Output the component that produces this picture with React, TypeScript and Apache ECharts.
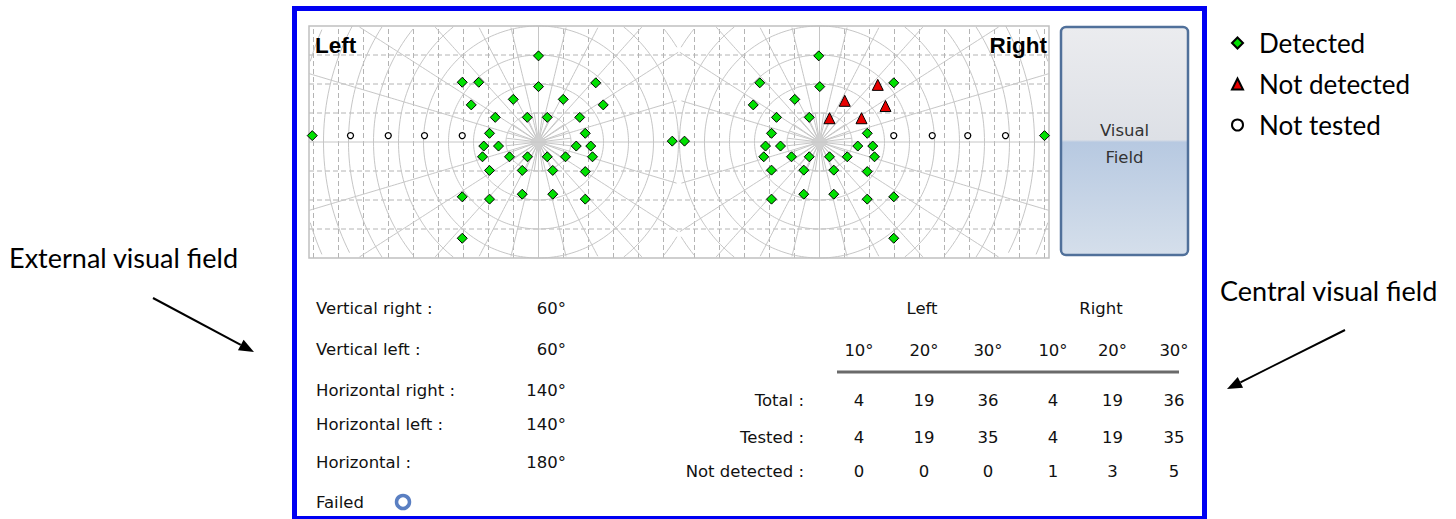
import React, { useEffect, useRef } from "react";
import * as echarts from "echarts";

// ---------- DATA ----------
// Fixation points of the two eyes on the shared horizontal axis (degrees)
const EYE_LEFT = -56.2;
const EYE_RIGHT = 56.2;

// Stimulus positions [horizontal°, vertical°] relative to each eye's fixation point
const leftDetected: number[][] = [
  [0, 29.7], [-30.5, 20.6], [-23.9, 20.6], [22.9, 20.4], [0, 19.1],
  [-26.9, 12.8], [-10.1, 14.7], [9.9, 14.7], [25.9, 12.8],
  [-17.3, 8.5], [-4.5, 8.5], [3.5, 8.5], [16.5, 8.5],
  [-19.6, 3.0], [18.7, 3.0],
  [-21.9, -1.4], [-16, -1.4], [15.1, -1.4], [20.9, -1.4],
  [-22.4, -5.1], [-11.6, -5.1], [-4.4, -5.1], [3.5, -5.1], [10.8, -5.1], [21.6, -5.1],
  [-19.6, -9.8], [-6.5, -9.8], [5.7, -9.8], [18.7, -10.2],
  [-30.5, -18.9], [-19.6, -19.7], [-6.5, -18.0], [5.7, -18.0], [18.7, -19.7],
  [-30.5, -33.2],
  [-90.5, 2.2], [58.4, 0.3],
];
const leftNotDetected: number[][] = [];
const leftNotTested: number[][] = [[-30.5, 2.2], [-45.6, 2.2], [-60.1, 2.2], [-75.2, 2.2]];

const rightDetected: number[][] = [
  [-0.3, 29.7], [-23.9, 20.4], [0.1, 19.1], [29.7, 20.4],
  [-26.5, 12.8], [-9.9, 14.7],
  [-17.2, 8.5], [-4.1, 8.5],
  [-19.2, 3.0], [19.1, 3.0],
  [-21.6, -1.4], [-15.6, -1.4], [15.3, -1.4], [21.3, -1.4],
  [-22.3, -5.1], [-11.2, -5.1], [-4.1, -5.1], [4.0, -5.1], [11.1, -5.1], [22.0, -5.1],
  [-19.2, -9.7], [-6.3, -9.7], [5.7, -9.7], [19.1, -10.2],
  [-19.2, -19.7], [-6.3, -18.0], [5.7, -18.0], [19.1, -19.7], [29.7, -18.9],
  [29.7, -33.2],
  [90.0, 2.2], [-58.9, 0.3],
];
const rightNotDetected: number[][] = [[23.3, 19.7], [10.1, 14.2], [26.4, 12.4], [4.0, 8.2], [16.8, 8.2]];
const rightNotTested: number[][] = [[29.7, 2.2], [45.1, 2.2], [59.3, 2.2], [74.4, 2.2]];

const legendNames = ["Detected", "Not detected", "Not tested"];

// External visual field summary
const extLabels = ["Vertical right :", "Vertical left :", "Horizontal right :", "Horizontal left :", "Horizontal :"];
const extValues = ["60°", "60°", "140°", "140°", "180°"];

// Central visual field table
const tableEyes = ["Left", "Right"];
const tableDegrees = ["10°", "20°", "30°"];
const rowLabels = ["Total :", "Tested :", "Not detected :"];
const totalRow = [4, 19, 36, 4, 19, 36];
const testedRow = [4, 19, 35, 4, 19, 35];
const notDetectedRow = [0, 0, 0, 1, 3, 5];

// ---------- LAYOUT ----------
const X_MIN = -148, X_MAX = 148, Y_MIN = -40, Y_MAX = 40;
const TXT = "DejaVu Sans";
const ANN = "Lato";

const ringRx = (r: number) => (r <= 20 ? r * 1.3 : r + 6);
const ringRy = (r: number) => r;

function shift(pts: number[][], cx: number) {
  return pts.map(([x, y]) => [cx + x, y]);
}

function renderGrid(_params: any, api: any) {
  const children: any[] = [];
  const grid = "#c6c6c6";
  const addPoly = (pts: number[][], dashed: boolean) => {
    if (pts.length < 2) return;
    children.push({
      type: "polyline",
      silent: true,
      shape: { points: pts.map((p) => api.coord(p)) },
      style: { stroke: dashed ? "#b4b4b4" : grid, lineWidth: 1, fill: null, lineDash: dashed ? [5, 3] : null },
    });
  };
  const addClipped = (pts: number[][], xmin: number, xmax: number, dashed = false) => {
    let seg: number[][] = [];
    for (const p of pts) {
      if (p[0] >= xmin && p[0] <= xmax && p[1] >= Y_MIN && p[1] <= Y_MAX) seg.push(p);
      else {
        addPoly(seg, dashed);
        seg = [];
      }
    }
    addPoly(seg, dashed);
  };
  const seg = (a: number[], b: number[], n = 60) => {
    const out: number[][] = [];
    for (let i = 0; i <= n; i++) out.push([a[0] + ((b[0] - a[0]) * i) / n, a[1] + ((b[1] - a[1]) * i) / n]);
    return out;
  };

  // dashed horizontals
  for (const y of [-30, -20, -10, 10, 20, 30]) addPoly([[X_MIN, y], [X_MAX, y]], true);

  const eyes = [
    { cx: EYE_LEFT, xmin: X_MIN, xmax: 0 },
    { cx: EYE_RIGHT, xmin: 0, xmax: X_MAX },
  ];
  for (const e of eyes) {
    // dashed verticals
    for (let k = 1; k < 12; k++) {
      for (const s of [-1, 1]) {
        const x = e.cx + s * 10 * k;
        if (x > e.xmin + 1 && x < e.xmax - 1) addPoly([[x, Y_MIN], [x, Y_MAX]], true);
      }
    }
  }
  for (const e of eyes) {
    // vertical meridian
    addPoly([[e.cx, Y_MIN], [e.cx, Y_MAX]], false);
    // rings
    for (let r = 10; r <= 100; r += 10) {
      const pts: number[][] = [];
      for (let a = 0; a <= 360; a += 1.5) {
        const t = (a * Math.PI) / 180;
        pts.push([e.cx + ringRx(r) * Math.cos(t), ringRy(r) * Math.sin(t)]);
      }
      addClipped(pts, e.xmin, e.xmax);
    }
    // meridians
    for (let a = 0; a < 360; a += 15) {
      if (a % 90 === 0) continue;
      const t = (a * Math.PI) / 180;
      addClipped(seg([e.cx, 0], [e.cx + ringRx(140) * Math.cos(t), ringRy(140) * Math.sin(t)], 120), e.xmin, e.xmax);
    }
    // inner spokes
    for (let a = 7.5; a < 360; a += 15) {
      const t = (a * Math.PI) / 180;
      addPoly([[e.cx, 0], [e.cx + ringRx(10) * Math.cos(t), ringRy(10) * Math.sin(t)]], false);
    }
    // fixation marker
    const c = api.coord([e.cx, 0]);
    children.push({
      type: "polygon",
      silent: true,
      shape: { points: [[c[0], c[1] - 9], [c[0] + 9, c[1]], [c[0], c[1] + 9], [c[0] - 9, c[1]]] },
      style: { fill: "#cfcfcf", stroke: null },
    });
  }
  // horizontal meridian
  addPoly([[X_MIN, 0], [X_MAX, 0]], false);
  // plot border
  const tl = api.coord([X_MIN, Y_MAX]);
  const br = api.coord([X_MAX, Y_MIN]);
  children.push({
    type: "rect",
    silent: true,
    shape: { x: tl[0], y: tl[1], width: br[0] - tl[0], height: br[1] - tl[1] },
    style: { fill: null, stroke: "#c0c0c0", lineWidth: 1.5 },
  });
  return { type: "group", children };
}

function arrow(x1: number, y1: number, x2: number, y2: number) {
  const dx = x2 - x1, dy = y2 - y1;
  const len = Math.hypot(dx, dy);
  const ux = dx / len, uy = dy / len;
  const L = 15, W = 12;
  const bx = x2 - ux * L, by = y2 - uy * L;
  return [
    { type: "line", shape: { x1, y1, x2: bx, y2: by }, style: { stroke: "#000", lineWidth: 2 } },
    {
      type: "polygon",
      shape: { points: [[x2, y2], [bx - (uy * W) / 2, by + (ux * W) / 2], [bx + (uy * W) / 2, by - (ux * W) / 2]] },
      style: { fill: "#000" },
    },
  ];
}

function txt(text: string, x: number, y: number, align = "left", size = 16.5, family = TXT, weight = "normal", fill = "#111") {
  return {
    type: "text",
    x,
    y,
    z: 20,
    style: { text, fill, fontSize: size, fontFamily: family, fontWeight: weight, align, verticalAlign: "middle" },
  };
}

function buildOption() {
  const graphic: any[] = [];
  // outer blue frame
  graphic.push({
    type: "rect",
    z: 30,
    shape: { x: 294.5, y: 8.5, width: 910, height: 510 },
    style: { fill: null, stroke: "#0000f2", lineWidth: 5 },
  });
  // eye labels
  graphic.push(txt("Left", 315, 45, "left", 22.5, "Liberation Sans", "bold", "#000"));
  graphic.push(txt("Right", 1047, 45, "right", 22.5, "Liberation Sans", "bold", "#000"));
  // Visual Field button
  graphic.push({
    type: "rect",
    z: 20,
    shape: { x: 1061, y: 27, width: 127, height: 228, r: 5 },
    style: {
      fill: new echarts.graphic.LinearGradient(0, 0, 0, 1, [
        { offset: 0, color: "#ebecef" },
        { offset: 0.495, color: "#dde0e6" },
        { offset: 0.505, color: "#b7c9e1" },
        { offset: 1, color: "#d5dfeb" },
      ]),
      stroke: "#50709a",
      lineWidth: 2.5,
    },
  });
  graphic.push(txt("Visual", 1124.5, 130, "center", 16.5, TXT, "normal", "#333"));
  graphic.push(txt("Field", 1124.5, 157, "center", 16.5, TXT, "normal", "#333"));

  // external visual field
  const extY = [308, 349, 390, 424, 462];
  extLabels.forEach((l, i) => {
    graphic.push(txt(l, 316, extY[i]));
    graphic.push(txt(extValues[i], 566, extY[i], "right"));
  });
  graphic.push(txt("Failed", 316, 502));
  graphic.push({
    type: "circle",
    z: 20,
    shape: { cx: 403, cy: 502, r: 6.5 },
    style: { fill: null, stroke: "#5a7fc2", lineWidth: 3.5 },
  });

  // central table
  const colX = [859, 924, 988, 1053, 1112.5, 1174];
  graphic.push(txt(tableEyes[0], 922, 308, "center"));
  graphic.push(txt(tableEyes[1], 1101, 308, "center"));
  colX.forEach((x, i) => graphic.push(txt(tableDegrees[i % 3], x, 350, "center")));
  graphic.push({
    type: "line",
    z: 20,
    shape: { x1: 837, y1: 372, x2: 1179, y2: 372 },
    style: { stroke: "#6a6a6a", lineWidth: 3 },
  });
  const rows = [totalRow, testedRow, notDetectedRow];
  const rowY = [400, 437, 471];
  rows.forEach((row, r) => {
    graphic.push(txt(rowLabels[r], 804, rowY[r], "right"));
    row.forEach((v, i) => graphic.push(txt(String(v), colX[i], rowY[r], "center")));
  });

  // annotations
  graphic.push(txt("External visual field", 238, 257, "right", 27, ANN, "normal", "#000"));
  graphic.push(...arrow(153, 298, 254, 352));
  graphic.push(txt("Central visual field", 1220, 290, "left", 27, ANN, "normal", "#000"));
  graphic.push(...arrow(1345, 330, 1227, 389));

  return {
    animation: false,
    backgroundColor: "#fff",
    grid: { left: 309, top: 26, width: 740, height: 232 },
    xAxis: { type: "value", min: X_MIN, max: X_MAX, show: false },
    yAxis: { type: "value", min: Y_MIN, max: Y_MAX, show: false },
    legend: {
      data: legendNames,
      orient: "vertical",
      left: 1226,
      top: 23,
      itemWidth: 11,
      itemHeight: 11,
      itemGap: 11,
      textStyle: { fontFamily: ANN, fontSize: 26, lineHeight: 30, color: "#000", padding: [0, 0, 0, 11] },
    },
    series: [
      {
        type: "custom",
        name: "grid",
        silent: true,
        z: 1,
        renderItem: renderGrid,
        data: [[0, 0]],
      },
      {
        type: "scatter",
        name: legendNames[0],
        z: 5,
        symbol: "diamond",
        symbolSize: 10,
        itemStyle: { color: "#00e000", borderColor: "#000", borderWidth: 1, opacity: 1 },
        data: [...shift(leftDetected, EYE_LEFT), ...shift(rightDetected, EYE_RIGHT)],
      },
      {
        type: "scatter",
        name: legendNames[1],
        z: 5,
        symbol: "triangle",
        symbolSize: 11,
        itemStyle: { color: "#e80000", borderColor: "#000", borderWidth: 1, opacity: 1 },
        data: [...shift(leftNotDetected, EYE_LEFT), ...shift(rightNotDetected, EYE_RIGHT)],
      },
      {
        type: "scatter",
        name: legendNames[2],
        z: 5,
        symbol: "circle",
        symbolSize: 6,
        itemStyle: { color: "#fff", borderColor: "#000", borderWidth: 1.3, opacity: 1 },
        data: [...shift(leftNotTested, EYE_LEFT), ...shift(rightNotTested, EYE_RIGHT)],
      },
    ],
    graphic,
  };
}

export default function App() {
  const ref = useRef<HTMLDivElement>(null);
  useEffect(() => {
    if (!ref.current) return;
    const chart = echarts.init(ref.current, null, { renderer: "svg" });
    chart.setOption(buildOption() as any);
    return () => chart.dispose();
  }, []);
  return (
    <div
      ref={ref}
      style={{ position: "absolute", left: 0, top: 0, width: 1456, height: 519, background: "#fff" }}
    />
  );
}
